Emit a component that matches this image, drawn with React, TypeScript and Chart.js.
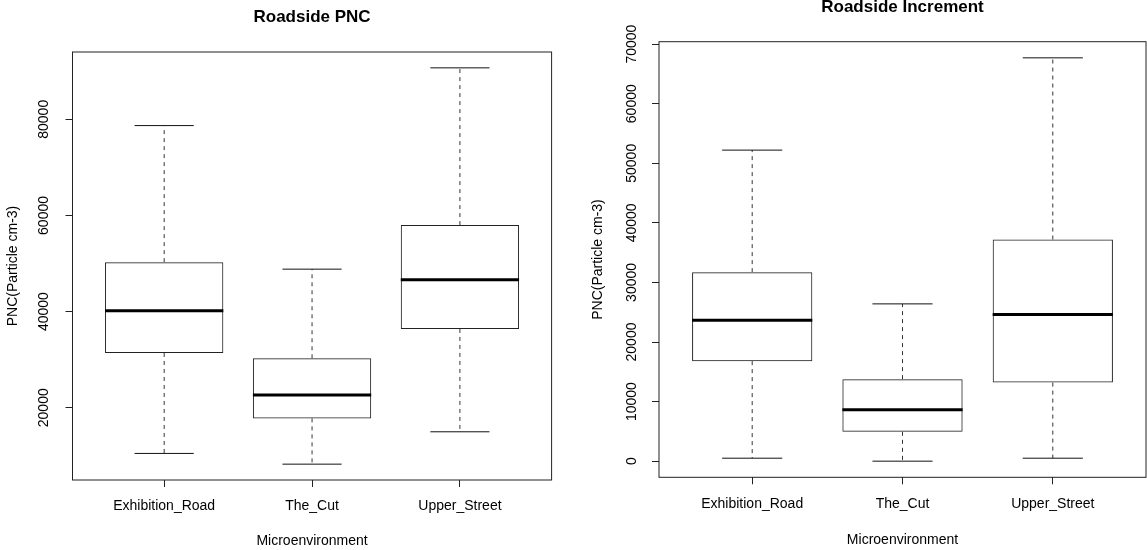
import React, { useEffect, useRef } from "react";
import { Chart, registerables } from "chart.js";

Chart.register(...registerables);

const FONT = "'Liberation Sans', Arial, Helvetica, sans-serif";

// ---- data ----
const categories = ["Exhibition_Road", "The_Cut", "Upper_Street"];
const categoryPositions = [1, 2, 3];

// Roadside PNC
const pncLowerWhisker = [10500, 8270, 15000];
const pncQ1 = [31400, 17790, 36400];
const pncMedian = [40200, 22650, 46600];
const pncQ3 = [50290, 30290, 58000];
const pncUpperWhisker = [78690, 48830, 90700];
const pncTicks = [20000, 40000, 60000, 80000];

// Roadside Increment
const incLowerWhisker = [500, 0, 500];
const incQ1 = [16790, 4920, 13190];
const incMedian = [23670, 8610, 24610];
const incQ3 = [31730, 13770, 37200];
const incUpperWhisker = [52210, 26400, 67700];
const incTicks = [0, 10000, 20000, 30000, 40000, 50000, 60000, 70000];

type Stats = {
  lower: number[];
  q1: number[];
  median: number[];
  q3: number[];
  upper: number[];
};

type PanelSpec = {
  title: string;
  stats: Stats;
  yTicks: number[];
  canvasLeft: number;
  width: number;
  height: number;
  yAxisWidth: number;
  xAxisHeight: number;
  padRight: number;
  titlePadTop: number;
  titlePadBottom: number;
  yTickPad: number;
  yTitlePad: number;
  xTickPad: number;
  xTitlePadBottom: number;
};

function makeBoxPlugin(stats: Stats) {
  return {
    id: "rBoxplot",
    afterDatasetsDraw(chart: any) {
      const ctx = chart.ctx as CanvasRenderingContext2D;
      const xs = chart.scales.x;
      const ys = chart.scales.y;
      const meta = chart.getDatasetMeta(0);
      ctx.save();
      meta.data.forEach((el: any, i: number) => {
        const p = el.getProps(["x", "width"], true);
        const cx = xs.getPixelForValue(categoryPositions[i]);
        const half = p.width / 2;
        const yLo = ys.getPixelForValue(stats.lower[i]);
        const yQ1 = ys.getPixelForValue(stats.q1[i]);
        const yMed = ys.getPixelForValue(stats.median[i]);
        const yQ3 = ys.getPixelForValue(stats.q3[i]);
        const yHi = ys.getPixelForValue(stats.upper[i]);

        // whiskers (dashed)
        ctx.setLineDash([4, 4]);
        ctx.lineWidth = 1;
        ctx.strokeStyle = "#333";
        ctx.beginPath();
        ctx.moveTo(cx, yQ3);
        ctx.lineTo(cx, yHi);
        ctx.moveTo(cx, yQ1);
        ctx.lineTo(cx, yLo);
        ctx.stroke();

        // staples
        ctx.setLineDash([]);
        ctx.strokeStyle = "#111";
        ctx.beginPath();
        ctx.moveTo(cx - half / 2, yHi);
        ctx.lineTo(cx + half / 2, yHi);
        ctx.moveTo(cx - half / 2, yLo);
        ctx.lineTo(cx + half / 2, yLo);
        ctx.stroke();

        // median
        ctx.lineWidth = 3;
        ctx.strokeStyle = "#000";
        ctx.beginPath();
        ctx.moveTo(cx - half, yMed);
        ctx.lineTo(cx + half, yMed);
        ctx.stroke();
      });
      const a = chart.chartArea;
      ctx.setLineDash([]);
      ctx.lineWidth = 1;
      ctx.strokeStyle = "#222";
      ctx.strokeRect(a.left, a.top, a.right - a.left, a.bottom - a.top);
      ctx.restore();
    },
  };
}

function BoxPanel({ spec }: { spec: PanelSpec }) {
  const ref = useRef<HTMLCanvasElement | null>(null);
  useEffect(() => {
    if (!ref.current) return;
    const s = spec.stats;
    const all = [...s.lower, ...s.upper];
    const lo = Math.min(...all);
    const hi = Math.max(...all);
    const ext = (hi - lo) * 0.04;
    const tickFont = { family: FONT, size: 14, lineHeight: 1.2 };
    const chart = new Chart(ref.current, {
      type: "bar",
      data: {
        datasets: [
          {
            label: spec.title,
            data: categoryPositions.map((x, i) => ({ x, y: [s.q1[i], s.q3[i]] })) as any,
            backgroundColor: "rgba(255,255,255,0)",
            borderColor: "#222",
            borderWidth: 1,
            borderSkipped: false,
            categoryPercentage: 0.8,
            barPercentage: 1,
          },
        ],
      },
      options: {
        animation: false,
        responsive: false,
        events: [],
        layout: { padding: { left: 0, right: spec.padRight, top: 0, bottom: 0 } },
        plugins: {
          legend: { display: false },
          tooltip: { enabled: false },
          title: {
            display: true,
            text: spec.title,
            color: "#000",
            fullSize: false,
            font: { family: FONT, size: 17, weight: "bold", lineHeight: 1 },
            padding: { top: spec.titlePadTop, bottom: spec.titlePadBottom },
          },
        },
        scales: {
          x: {
            type: "linear",
            min: 0.38,
            max: 3.62,
            offset: false,
            bounds: "data",
            afterBuildTicks: (sc: any) => {
              sc.ticks = categoryPositions.map((v) => ({ value: v }));
            },
            afterFit: (sc: any) => {
              sc.height = spec.xAxisHeight;
            },
            ticks: {
              autoSkip: false,
              maxRotation: 0,
              minRotation: 0,
              color: "#000",
              font: tickFont,
              padding: spec.xTickPad,
              callback: (_v: any, idx: number) => categories[idx],
            },
            grid: {
              display: true,
              drawOnChartArea: false,
              drawTicks: true,
              tickLength: 7,
              color: "#222",
              offset: false,
            },
            border: { display: false },
            title: {
              display: true,
              text: "Microenvironment",
              color: "#000",
              font: tickFont,
              padding: { top: 0, bottom: spec.xTitlePadBottom },
            },
          },
          y: {
            type: "linear",
            min: lo - ext,
            max: hi + ext,
            bounds: "data",
            afterBuildTicks: (sc: any) => {
              sc.ticks = spec.yTicks.map((v) => ({ value: v }));
            },
            afterFit: (sc: any) => {
              sc.width = spec.yAxisWidth;
            },
            ticks: {
              autoSkip: false,
              minRotation: 90,
              maxRotation: 90,
              crossAlign: "center",
              color: "#000",
              font: tickFont,
              padding: spec.yTickPad,
              callback: (v: any) => String(v),
            },
            grid: {
              display: true,
              drawOnChartArea: false,
              drawTicks: true,
              tickLength: 7,
              color: "#222",
            },
            border: { display: false },
            title: {
              display: true,
              text: "PNC(Particle cm-3)",
              color: "#000",
              font: tickFont,
              padding: { top: spec.yTitlePad, bottom: 0 },
            },
          },
        },
      } as any,
      plugins: [makeBoxPlugin(s)],
    });
    return () => chart.destroy();
  }, [spec]);
  return (
    <canvas
      ref={ref}
      width={spec.width}
      height={spec.height}
      style={{
        position: "absolute",
        left: spec.canvasLeft,
        top: 0,
        width: spec.width,
        height: spec.height,
      }}
    />
  );
}

const leftSpec: PanelSpec = {
  title: "Roadside PNC",
  stats: { lower: pncLowerWhisker, q1: pncQ1, median: pncMedian, q3: pncQ3, upper: pncUpperWhisker },
  yTicks: pncTicks,
  canvasLeft: 0,
  width: 590,
  height: 550,
  yAxisWidth: 72.5,
  xAxisHeight: 70,
  padRight: 38.4,
  titlePadTop: 9.3,
  titlePadBottom: 25.7,
  yTickPad: 1.7,
  yTitlePad: 4.9,
  xTickPad: 11,
  xTitlePadBottom: 0,
};

const rightSpec: PanelSpec = {
  title: "Roadside Increment",
  stats: { lower: incLowerWhisker, q1: incQ1, median: incMedian, q3: incQ3, upper: incUpperWhisker },
  yTicks: incTicks,
  canvasLeft: 590,
  width: 557,
  height: 550,
  yAxisWidth: 69,
  xAxisHeight: 72.7,
  padRight: 1,
  titlePadTop: -1.3,
  titlePadBottom: 26,
  yTickPad: 0.5,
  yTitlePad: 0.2,
  xTickPad: 11.6,
  xTitlePadBottom: 1.6,
};

export default function App() {
  return (
    <div
      style={{
        position: "fixed",
        left: 0,
        top: 0,
        width: 1147,
        height: 550,
        background: "#fff",
        overflow: "hidden",
      }}
    >
      <BoxPanel spec={leftSpec} />
      <BoxPanel spec={rightSpec} />
    </div>
  );
}
